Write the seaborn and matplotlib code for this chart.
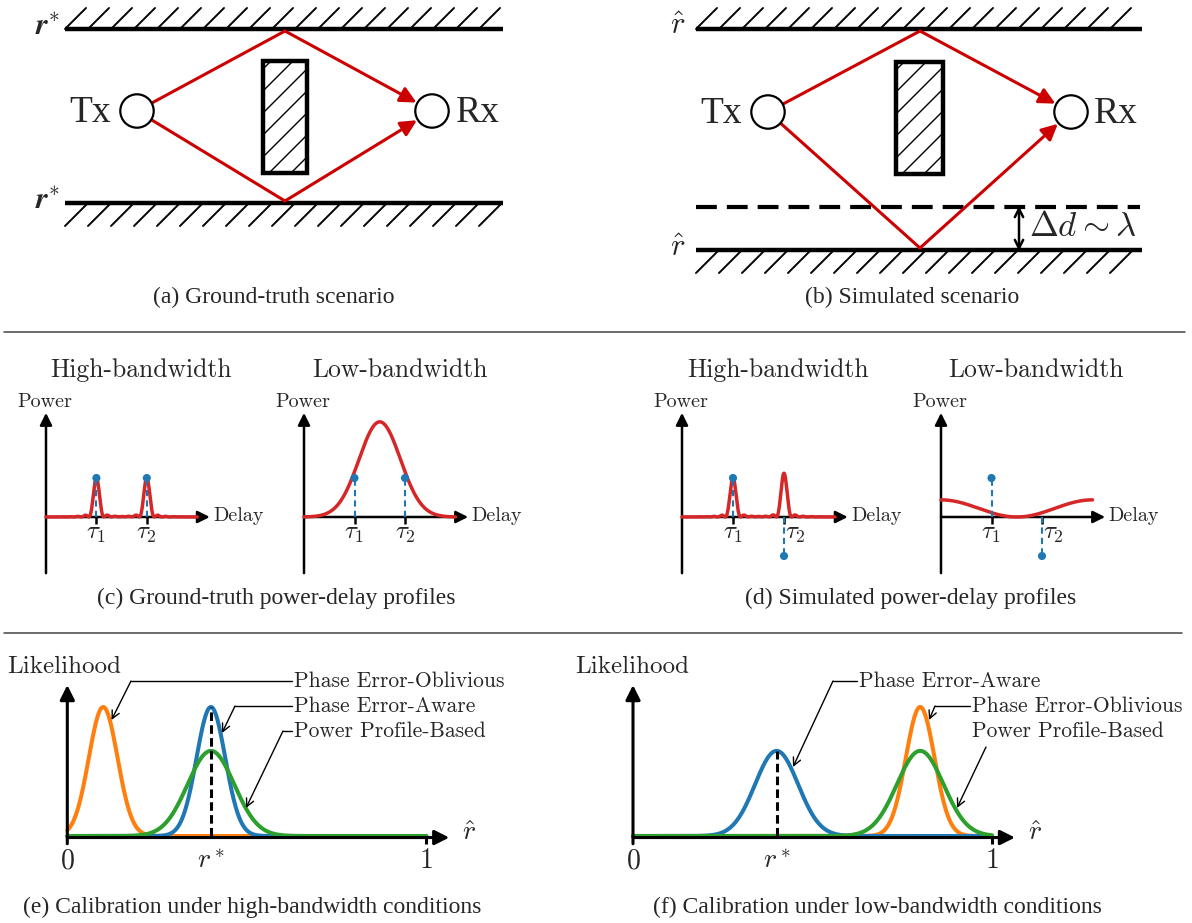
import numpy as np
import pandas as pd
import seaborn as sns
import matplotlib.pyplot as plt
from matplotlib.patches import Circle, Rectangle

# ---- power-delay profiles (delay measured in units of tau_1) ----
taus = [1.0, 2.0]
tau_labels = [r'$\tau_1$', r'$\tau_2$']
gt_amps = [1.0, 1.0]          # ground-truth path gains
sim_amps = [1.0, -1.0]        # simulated path gains (second path flipped)
gt_hb_peaks = [1.0, 1.0]      # high-bandwidth peak power
sim_hb_peaks = [1.0, 1.12]
hb_lobe = 0.15                # main-lobe half width
gt_lb_peak, gt_lb_centre, gt_lb_sigma = 2.44, 1.5, 0.41
sim_lb_level, sim_lb_period = 0.44, 3.0
delay_end = 3.0

# ---- calibration likelihoods over r_hat in [0, 1] ----
methods = ['Phase Error-Oblivious', 'Phase Error-Aware', 'Power Profile-Based']
method_colors = ['#ff7f0e', '#1f77b4', '#2ca02c']
r_star = 0.40
hb_centres = [0.10, 0.40, 0.40]
hb_heights = [1.00, 1.00, 0.66]
hb_sigmas = [0.040, 0.040, 0.065]
lb_centres = [0.80, 0.40, 0.80]
lb_heights = [1.00, 0.66, 0.66]
lb_sigmas = [0.040, 0.060, 0.065]

W, H = 1192, 923
RED = '#cc0000'
PRED = '#d62728'
PBLUE = '#1f77b4'
CM = 'cmr10'

sns.set_style('white')
plt.rcParams['font.family'] = ['Liberation Serif', 'DejaVu Serif']
plt.rcParams['mathtext.fontset'] = 'cm'

fig = plt.figure(figsize=(W / 100, H / 100), dpi=100)
bg = fig.add_axes([0, 0, 1, 1])
bg.set_xlim(0, W)
bg.set_ylim(H, 0)
bg.axis('off')
bg.set_zorder(5)
bg.patch.set_alpha(0)


def add_ax(ox, oy, sx, sy, xlim, ylim):
    l = ox + xlim[0] * sx
    r = ox + xlim[1] * sx
    t = oy - ylim[1] * sy
    b = oy - ylim[0] * sy
    ax = fig.add_axes([l / W, 1 - b / H, (r - l) / W, (b - t) / H])
    ax.set_xlim(*xlim)
    ax.set_ylim(*ylim)
    ax.axis('off')
    return ax


def arrow(ax, start, end, lw=1.8, ms=18):
    ax.annotate('', xy=end, xytext=start,
                arrowprops=dict(arrowstyle='-|>', color='k', lw=lw,
                                mutation_scale=ms, shrinkA=0, shrinkB=0))


# ------------------------------------------------------------ scenes
def wall(x0, x1, y, up):
    bg.plot([x0, x1], [y, y], color='k', lw=3.2, solid_capstyle='butt')
    for x in np.arange(x0, x1 - 20, 23):
        if up:
            bg.plot([x, x + 21], [y, y - 21], color='k', lw=1.4)
        else:
            bg.plot([x, x + 23], [y + 23, y], color='k', lw=1.4)


def obstacle(x0, y0, x1, y1):
    rect = Rectangle((x0, y0), x1 - x0, y1 - y0, fill=False, ec='k', lw=3.2, zorder=3)
    bg.add_patch(rect)
    for c in np.arange(x0 + y0 + 8, x1 + y1, 22):
        ln, = bg.plot([x0 - 30, x1 + 30], [c - x0 + 30, c - x1 - 30], color='k', lw=1.0)
        ln.set_clip_path(rect)


def node(cx, cy, r):
    bg.add_patch(Circle((cx, cy), r, fc='white', ec='k', lw=1.6, zorder=4))


def ray(p1, c0, c1, r):
    d0 = np.subtract(p1, c0) / np.hypot(*np.subtract(p1, c0))
    start = np.add(c0, r * d0)
    d1 = np.subtract(c1, p1) / np.hypot(*np.subtract(c1, p1))
    end = np.subtract(c1, (r + 1) * d1)
    bg.plot([start[0], p1[0]], [start[1], p1[1]], color=RED, lw=2.2)
    bg.annotate('', xy=end, xytext=p1,
                arrowprops=dict(arrowstyle='-|>', color=RED, lw=2.2,
                                mutation_scale=24, shrinkA=0, shrinkB=0))


# (a) ground truth
wall(65, 503, 29, True)
wall(65, 503, 203, False)
obstacle(263, 61, 307, 173)
ray((285, 31), (137, 111), (432, 111), 16.7)
ray((285, 201), (137, 111), (432, 111), 16.7)
node(137, 111, 16.7)
node(432, 111, 16.7)
bg.text(111, 113, 'Tx', ha='right', va='center', fontsize=27)
bg.text(456, 113, 'Rx', ha='left', va='center', fontsize=27)
for y in (29, 203):
    bg.text(48, y - 2, r'$\boldsymbol{r}^{*}$', ha='center', va='center', fontsize=22)
bg.text(274, 297, '(a) Ground-truth scenario', ha='center', va='center', fontsize=17)

# (b) simulated
wall(696, 1142, 29, True)
wall(696, 1142, 250, False)
bg.plot([696, 1140], [207, 207], color='k', lw=3, dashes=(5, 2.4))
obstacle(896, 62, 943, 174)
ray((920, 31), (768, 112), (1071, 112), 16.7)
ray((920, 248), (768, 112), (1071, 112), 16.7)
node(768, 112, 16.7)
node(1071, 112, 16.7)
bg.text(742, 114, 'Tx', ha='right', va='center', fontsize=27)
bg.text(1094, 114, 'Rx', ha='left', va='center', fontsize=27)
for y in (29, 250):
    bg.text(678, y - 2, r'$\hat{r}$', ha='center', va='center', fontsize=22)
bg.annotate('', xy=(1019, 206), xytext=(1019, 251),
            arrowprops=dict(arrowstyle='<->', color='k', lw=1.8,
                            mutation_scale=15, shrinkA=0, shrinkB=0))
bg.text(1029, 228, r'$\Delta d \sim \lambda$', ha='left', va='center', fontsize=25)
bg.text(912, 297, '(b) Simulated scenario', ha='center', va='center', fontsize=17)

# separators
for y, x1 in ((331.5, 1185), (632.5, 1182)):
    bg.plot([4, x1], [y, y], color='#444444', lw=1.1)

# ------------------------------------------------------------ power-delay profiles
delay = np.linspace(0, delay_end, 601)


def hb_profile(peaks):
    return sum(p * np.sinc((delay - t) / hb_lobe) ** 2 for p, t in zip(peaks, taus))


profiles = {
    'c_hb': hb_profile(gt_hb_peaks),
    'c_lb': gt_lb_peak * np.exp(-0.5 * ((delay - gt_lb_centre) / gt_lb_sigma) ** 2),
    'd_hb': hb_profile(sim_hb_peaks),
    'd_lb': sim_lb_level * (1 + np.cos(2 * np.pi * delay / sim_lb_period)) / 2,
}

pdp_panels = [
    # key, origin x, px per unit, amps, title, title x, tau2 shift
    ('c_hb', 46, 50.4, gt_amps, 'High-bandwidth', 141.5, 0),
    ('c_lb', 304, 50.5, gt_amps, 'Low-bandwidth', 400, 0),
    ('d_hb', 682, 51.0, sim_amps, 'High-bandwidth', 778, 11),
    ('d_lb', 941, 50.5, sim_amps, 'Low-bandwidth', 1036, 11),
]
OY, SY = 517, 39
for key, ox, sx, amps, title, tx, shift in pdp_panels:
    ax = add_ax(ox, OY, sx, SY, (-0.3, 3.45), (-1.6, 2.8))
    arrow(ax, (0, 0), (3.25, 0))
    arrow(ax, (0, -1.44), (0, 2.67))
    ax.vlines(taus, -0.18, 0, color='k', lw=1.8)
    df = pd.DataFrame({'delay': delay, 'power': profiles[key]})
    sns.lineplot(data=df, x='delay', y='power', color=PRED, lw=2.5, ax=ax, zorder=3)
    ax.vlines(taus, 0, amps, color=PBLUE, lw=1.5, linestyles=(0, (3, 2)), zorder=4)
    sns.scatterplot(x=taus, y=amps, color=PBLUE, s=34, edgecolor='none', ax=ax, zorder=5)
    ax.set_xlabel('')
    ax.set_ylabel('')
    bg.text(tx, 370, title, ha='center', va='center', fontsize=18.5, family=CM)
    bg.text(ox - 1, 402, 'Power', ha='center', va='center', fontsize=14.5, family=CM)
    bg.text(ox + 3.32 * sx, 516, 'Delay', ha='left', va='center', fontsize=14.5, family=CM)
    for i, (t, lab) in enumerate(zip(taus, tau_labels)):
        bg.text(ox + t * sx + (shift if i == 1 else 0), 534, lab,
                ha='center', va='center', fontsize=18)

bg.text(276, 598, '(c) Ground-truth power-delay profiles', ha='center', va='center', fontsize=17)
bg.text(911, 598, '(d) Simulated power-delay profiles', ha='center', va='center', fontsize=17)

# ------------------------------------------------------------ calibration likelihoods
r_grid = np.linspace(0, 1, 501)


def lik_frame(centres, heights, sigmas):
    parts = []
    for m, c, h, s in zip(methods, centres, heights, sigmas):
        parts.append(pd.DataFrame({'r': r_grid,
                                   'lik': h * np.exp(-0.5 * ((r_grid - c) / s) ** 2),
                                   'method': m}))
    return pd.concat(parts, ignore_index=True)


lik_panels = [
    (67.3, hb_centres, hb_heights, hb_sigmas, 7.7, 252,
     '(e) Calibration under high-bandwidth conditions'),
    (633, lb_centres, lb_heights, lb_sigmas, 575, 877.6,
     '(f) Calibration under low-bandwidth conditions'),
]
LY, LSX, LSY = 836, 359, 129
palette = dict(zip(methods, method_colors))
for ox, cen, hts, sig, lab_x, cap_x, cap in lik_panels:
    ax = add_ax(ox, LY, LSX, LSY, (-0.05, 1.12), (-0.12, 1.22))
    df = lik_frame(cen, hts, sig)
    sns.lineplot(data=df, x='r', y='lik', hue='method', hue_order=methods,
                 palette=palette, lw=2.9, legend=False, ax=ax)
    ax.set_xlabel('')
    ax.set_ylabel('')
    arrow(ax, (0, -0.012), (1.064, -0.012), lw=2.2, ms=22)
    arrow(ax, (0, -0.06), (0, 1.17), lw=2.2, ms=22)
    ax.vlines([1.0], -0.06, 0, color='k', lw=2.2)
    peak = hts[methods.index('Phase Error-Aware')]
    ax.vlines([r_star], 0, peak, color='k', lw=2.2, linestyles=(0, (2.8, 1.4)))
    bg.text(lab_x, 667, 'Likelihood', ha='left', va='center', fontsize=18, family=CM)
    for v, s in ((0, r'$0$'), (r_star, r'$r^*$'), (1, r'$1$')):
        bg.text(ox + v * LSX, 862, s, ha='center', va='center', fontsize=20)
    bg.text(ox + 1.12 * LSX, 833, r'$\hat{r}$', ha='center', va='center', fontsize=20)
    bg.text(cap_x, 907, cap, ha='center', va='center', fontsize=17)


def leader(text, tx, ty, bend, tip):
    bg.text(tx, ty, text, ha='left', va='center', fontsize=15.5, family=CM)
    if bend is not None:
        bg.plot([tx - 2, bend[0]], [ty, bend[1]], color='k', lw=1.0)
        start = bend
    else:
        start = (tx + 14, ty + 16)
    bg.annotate('', xy=tip, xytext=start,
                arrowprops=dict(arrowstyle='->', color='k', lw=1.0,
                                mutation_scale=14, shrinkA=0, shrinkB=0))


leader('Phase Error-Oblivious', 294, 681, (131, 681), (111.5, 720))
leader('Phase Error-Aware', 294, 706, (235, 706), (222, 733))
leader('Power Profile-Based', 294, 731, (283, 731), (246, 808))
leader('Phase Error-Aware', 859, 681, (833, 681), (793, 767))
leader('Phase Error-Oblivious', 972, 706, (935, 706), (929, 720))
leader('Power Profile-Based', 972, 731, None, (957, 808))

fig.savefig('out.png', dpi=100)
